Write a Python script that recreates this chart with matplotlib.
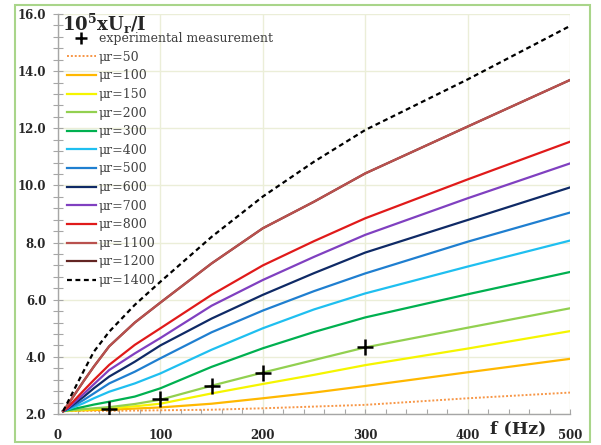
import matplotlib
matplotlib.use('Agg')
import matplotlib.pyplot as plt
from matplotlib.ticker import MultipleLocator, FormatStrFormatter
from matplotlib.lines import Line2D
from matplotlib.patches import Rectangle

plt.rcParams['font.family'] = ['DejaVu Serif']
plt.rcParams['mathtext.fontset'] = 'dejavuserif'

freq = [5, 10, 25, 35, 50, 75, 100, 150, 200, 250, 300, 400, 500]

mu_50 = [2.10, 2.10, 2.11, 2.11, 2.11, 2.12, 2.13, 2.15, 2.20, 2.26, 2.32, 2.55, 2.75]
mu_100 = [2.10, 2.11, 2.13, 2.14, 2.15, 2.19, 2.23, 2.36, 2.55, 2.75, 2.98, 3.46, 3.93]
mu_150 = [2.10, 2.12, 2.15, 2.17, 2.20, 2.27, 2.36, 2.72, 3.05, 3.37, 3.71, 4.29, 4.90]
mu_200 = [2.10, 2.12, 2.17, 2.20, 2.24, 2.35, 2.50, 2.99, 3.45, 3.89, 4.33, 5.02, 5.70]
mu_300 = [2.10, 2.14, 2.25, 2.33, 2.43, 2.61, 2.90, 3.65, 4.30, 4.87, 5.38, 6.19, 6.97]
mu_400 = [2.10, 2.16, 2.38, 2.55, 2.78, 3.07, 3.42, 4.25, 5.00, 5.66, 6.22, 7.16, 8.07]
mu_500 = [2.10, 2.18, 2.49, 2.72, 3.07, 3.48, 3.95, 4.86, 5.62, 6.30, 6.92, 8.03, 9.05]
mu_600 = [2.10, 2.20, 2.60, 2.90, 3.31, 3.83, 4.40, 5.34, 6.17, 6.93, 7.65, 8.79, 9.93]
mu_700 = [2.10, 2.22, 2.70, 3.04, 3.54, 4.12, 4.66, 5.79, 6.69, 7.50, 8.27, 9.55, 10.77]
mu_800 = [2.10, 2.25, 2.82, 3.19, 3.72, 4.42, 5.00, 6.17, 7.20, 8.05, 8.85, 10.21, 11.53]
mu_1100 = [2.10, 2.35, 3.15, 3.66, 4.37, 5.20, 5.90, 7.27, 8.50, 9.43, 10.42, 12.06, 13.69]
mu_1200 = [2.10, 2.35, 3.15, 3.66, 4.37, 5.20, 5.90, 7.27, 8.50, 9.43, 10.42, 12.06, 13.69]
mu_1400 = [2.10, 2.45, 3.50, 4.18, 4.88, 5.82, 6.63, 8.20, 9.61, 10.83, 11.94, 13.71, 15.58]

exp_f = [50, 100, 150, 200, 300]
exp_v = [2.16, 2.51, 2.99, 3.45, 4.33]

series = [
    ('μr=50', mu_50, '#f79646', ':'),
    ('μr=100', mu_100, '#ffb800', '-'),
    ('μr=150', mu_150, '#f5f500', '-'),
    ('μr=200', mu_200, '#92d050', '-'),
    ('μr=300', mu_300, '#00b050', '-'),
    ('μr=400', mu_400, '#1fbff0', '-'),
    ('μr=500', mu_500, '#1f7fd0', '-'),
    ('μr=600', mu_600, '#0f2a66', '-'),
    ('μr=700', mu_700, '#8040c0', '-'),
    ('μr=800', mu_800, '#e01a1a', '-'),
    ('μr=1100', mu_1100, '#b9514e', '-'),
    ('μr=1200', mu_1200, '#632523', '-'),
    ('μr=1400', mu_1400, 'black', '--'),
]

fig = plt.figure(figsize=(6.01, 4.45), dpi=100)
W, H = 601, 445
fig.patches.append(Rectangle((15 / W, 3 / H), 575 / W, 437 / H, transform=fig.transFigure,
                             fill=False, edgecolor='#a9d58a', linewidth=1.5))
ax = fig.add_axes([58 / W, 31 / H, 512 / W, 400 / H])

handles = []
exp_h = Line2D([], [], marker='+', color='black', linestyle='none', markersize=9, markeredgewidth=1.8)
handles.append(exp_h)
for label, vals, color, ls in series:
    z = 1 if label == 'μr=1200' else 2
    if ls == '--':
        ln, = ax.plot(freq, vals, color=color, linestyle=(0, (2.2, 1.6)), linewidth=1.6, label=label, zorder=z)
    elif ls == ':':
        ln, = ax.plot(freq, vals, color=color, linestyle=(0, (1, 1)), linewidth=1.4, label=label, zorder=z)
    else:
        ln, = ax.plot(freq, vals, color=color, linewidth=1.6, label=label, zorder=z)
    handles.append(ln)

ax.plot(exp_f, exp_v, linestyle='none', marker='+', color='black', markersize=11,
        markeredgewidth=1.8, zorder=5)

ax.set_xlim(0, 500)
ax.set_ylim(2, 16)
ax.xaxis.set_major_locator(MultipleLocator(100))
ax.xaxis.set_minor_locator(MultipleLocator(20))
ax.yaxis.set_major_locator(MultipleLocator(2))
ax.yaxis.set_minor_locator(MultipleLocator(0.4))
ax.yaxis.set_major_formatter(FormatStrFormatter('%.1f'))

ax.grid(True, which='major', color='#ebeed8', linewidth=1.0, zorder=0)
ax.set_axisbelow(True)
for s in ['top', 'right']:
    ax.spines[s].set_visible(False)
for s in ['left', 'bottom']:
    ax.spines[s].set_color('#a6a6a6')
    ax.spines[s].set_linewidth(1.0)

ax.tick_params(axis='y', which='both', direction='inout', length=7, width=0.8, color='#a6a6a6',
               labelsize=8.5, pad=5, labelcolor='#262626')
ax.tick_params(axis='x', which='both', direction='in', length=3.5, width=0.8, color='#a6a6a6',
               labelsize=8.5, pad=11, labelcolor='#262626')
for lab in ax.get_xticklabels() + ax.get_yticklabels():
    lab.set_fontweight('bold')

leg = ax.legend(handles=handles, labels=['experimental measurement'] + [s[0] for s in series],
                loc='upper left', bbox_to_anchor=(67 / W, 1 - 32 / H), bbox_transform=fig.transFigure,
                frameon=False, fontsize=9, handlelength=2.3, handletextpad=0.25,
                labelspacing=0.45, borderpad=0, borderaxespad=0)
for t in leg.get_texts():
    t.set_color('#404040')

fig.text(62 / W, 1 - 24 / H, r'$\mathbf{10^5xU_r/I}$', fontsize=13, color='#262626',
         ha='left', va='center')
fig.text(518 / W, 1 - 429 / H, 'f (Hz)', fontsize=12.5, fontweight='bold', color='#262626',
         ha='center', va='center')

fig.savefig('out.png', dpi=100)
